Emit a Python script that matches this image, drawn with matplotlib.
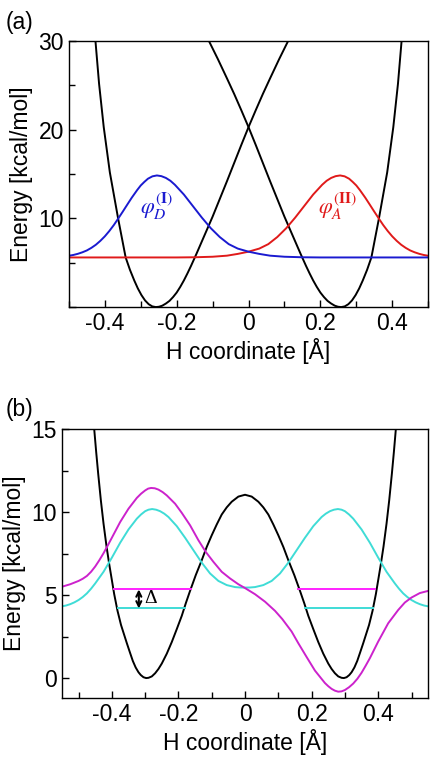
import matplotlib
matplotlib.use("Agg")
import matplotlib.pyplot as plt
from matplotlib.ticker import MultipleLocator, FuncFormatter

plt.rcParams["font.family"] = ["Liberation Sans", "DejaVu Sans"]
plt.rcParams["mathtext.fontset"] = "stix"
plt.rcParams["axes.unicode_minus"] = False

# ---------------- panel (a) data ----------------
# donor diabatic potential (black, left well)
va_left_x = [-0.433, -0.426, -0.416, -0.403, -0.386, -0.363, -0.352, -0.342, -0.33, -0.318,
             -0.308, -0.298, -0.288, -0.278, -0.268, -0.258, -0.249, -0.24, -0.23, -0.22,
             -0.21, -0.20, -0.19, -0.18, -0.17, -0.16, -0.145, -0.13, -0.115, -0.10,
             -0.08, -0.06, -0.04, -0.02, 0.0, 0.02, 0.04, 0.06, 0.085, 0.11, 0.125]
va_left_y = [33.5, 30.0, 25.2, 20.3, 15.2, 10.0, 7.7, 5.6, 4.2, 3.0,
             2.1, 1.35, 0.75, 0.33, 0.08, 0.0, 0.04, 0.16, 0.4, 0.7,
             1.13, 1.64, 2.28, 3.0, 3.8, 4.65, 6.0, 7.4, 8.8, 10.2,
             12.2, 14.2, 16.25, 18.3, 20.3, 22.2, 24.05, 25.8, 27.95, 30.0, 31.2]

# acceptor diabatic potential (black, right well)
va_right_x = [-0.125, -0.11, -0.085, -0.06, -0.04, -0.02, 0.0, 0.02, 0.04, 0.06,
              0.08, 0.10, 0.115, 0.13, 0.145, 0.16, 0.17, 0.18, 0.19, 0.20,
              0.21, 0.22, 0.23, 0.24, 0.249, 0.258, 0.268, 0.278, 0.288, 0.298,
              0.308, 0.318, 0.33, 0.342, 0.352, 0.363, 0.386, 0.403, 0.416, 0.426, 0.433]
va_right_y = [31.2, 30.0, 27.95, 25.8, 24.05, 22.2, 20.3, 18.3, 16.25, 14.2,
              12.2, 10.2, 8.8, 7.4, 6.0, 4.65, 3.8, 3.0, 2.28, 1.64,
              1.13, 0.7, 0.4, 0.16, 0.04, 0.0, 0.08, 0.33, 0.75, 1.35,
              2.1, 3.0, 4.2, 5.6, 7.7, 10.0, 15.2, 20.3, 25.2, 30.0, 33.5]

# phi_D^(I) (blue)
phi_d_x = [-0.5, -0.4875, -0.475, -0.4625, -0.45, -0.4375, -0.425, -0.4125, -0.40, -0.3875,
           -0.375, -0.3625, -0.35, -0.3375, -0.325, -0.31, -0.30, -0.29, -0.28, -0.2675,
           -0.255, -0.2425, -0.23, -0.2175, -0.205, -0.18, -0.155, -0.13, -0.105, -0.08,
           -0.055, -0.03, 0.0, 0.03, 0.06, 0.10, 0.15, 0.20, 0.5]
phi_d_y = [5.79, 5.88, 6.01, 6.18, 6.39, 6.68, 7.03, 7.47, 7.98, 8.58,
           9.25, 10.0, 10.77, 11.56, 12.34, 13.2, 13.72, 14.12, 14.48, 14.75,
           14.85, 14.77, 14.57, 14.25, 13.8, 12.7, 11.4, 10.1, 8.9, 7.9,
           7.1, 6.6, 6.25, 6.0, 5.8, 5.68, 5.62, 5.6, 5.6]

# phi_A^(II) (red)
phi_a_x = [-0.5, -0.2, -0.15, -0.10, -0.06, -0.03, 0.0, 0.03, 0.055, 0.08,
           0.105, 0.13, 0.155, 0.18, 0.205, 0.2175, 0.23, 0.2425, 0.255, 0.2675,
           0.28, 0.29, 0.30, 0.31, 0.325, 0.3375, 0.35, 0.3625, 0.375, 0.3875,
           0.40, 0.4125, 0.425, 0.4375, 0.45, 0.4625, 0.475, 0.4875, 0.5]
phi_a_y = [5.6, 5.6, 5.62, 5.68, 5.8, 6.0, 6.25, 6.6, 7.1, 7.9,
           8.9, 10.1, 11.4, 12.7, 13.8, 14.25, 14.57, 14.77, 14.85, 14.75,
           14.48, 14.12, 13.72, 13.2, 12.34, 11.56, 10.77, 10.0, 9.25, 8.58,
           7.98, 7.47, 7.03, 6.68, 6.39, 6.18, 6.01, 5.88, 5.79]

# ---------------- panel (b) data ----------------
# adiabatic double well (black)
vb_x = [-0.462, -0.453, -0.447, -0.441, -0.433, -0.425, -0.416, -0.408, -0.393, -0.383,
        -0.3725, -0.355, -0.346, -0.337, -0.3285, -0.32, -0.313, -0.305, -0.297, -0.29,
        -0.28, -0.27, -0.26, -0.25, -0.235, -0.22, -0.205, -0.19, -0.178, -0.166,
        -0.148, -0.13, -0.115, -0.10, -0.085, -0.07, -0.055, -0.04, -0.02, 0.0,
        0.02, 0.04, 0.055, 0.07, 0.085, 0.10, 0.115, 0.13, 0.148, 0.166,
        0.178, 0.19, 0.205, 0.22, 0.235, 0.25, 0.26, 0.27, 0.28, 0.29,
        0.297, 0.305, 0.313, 0.32, 0.3285, 0.337, 0.346, 0.355, 0.3725, 0.383,
        0.393, 0.408, 0.416, 0.425, 0.433, 0.441, 0.447, 0.453, 0.462]
vb_y = [17.2, 15.0, 13.6, 12.3, 10.7, 9.3, 7.93, 6.87, 5.06, 4.05,
        3.2, 2.1, 1.56, 1.03, 0.64, 0.35, 0.18, 0.05, 0.0, 0.015,
        0.1, 0.29, 0.55, 0.875, 1.47, 2.17, 2.95, 3.75, 4.5, 5.2,
        6.2, 7.1, 7.9, 8.6, 9.25, 9.85, 10.28, 10.62, 10.93, 11.04,
        10.93, 10.62, 10.28, 9.85, 9.25, 8.6, 7.9, 7.1, 6.2, 5.2,
        4.5, 3.75, 2.95, 2.17, 1.47, 0.875, 0.55, 0.29, 0.1, 0.015,
        0.0, 0.05, 0.18, 0.35, 0.64, 1.03, 1.56, 2.1, 3.2, 4.05,
        5.06, 6.87, 7.93, 9.3, 10.7, 12.3, 13.6, 15.0, 17.2]

# ground state (cyan)
psi0_x = [-0.55, -0.5375, -0.525, -0.5125, -0.50, -0.4875, -0.475, -0.4625, -0.45, -0.425,
          -0.40, -0.375, -0.35, -0.325, -0.3125, -0.30, -0.29, -0.279, -0.267, -0.255,
          -0.2425, -0.23, -0.205, -0.18, -0.155, -0.13, -0.105, -0.08, -0.055, -0.03,
          -0.015, 0.0, 0.015, 0.03, 0.055, 0.08, 0.105, 0.13, 0.155, 0.18,
          0.205, 0.23, 0.2425, 0.255, 0.267, 0.279, 0.29, 0.30, 0.3125, 0.325,
          0.35, 0.375, 0.40, 0.425, 0.45, 0.4625, 0.475, 0.4875, 0.50, 0.5125,
          0.525, 0.5375, 0.55]
psi0_y = [4.32, 4.37, 4.45, 4.56, 4.7, 4.88, 5.1, 5.38, 5.7, 6.4,
          7.25, 8.15, 8.95, 9.6, 9.85, 10.05, 10.14, 10.18, 10.14, 10.05,
          9.9, 9.7, 9.15, 8.45, 7.7, 6.95, 6.3, 5.85, 5.6, 5.48,
          5.455, 5.45, 5.455, 5.48, 5.6, 5.85, 6.3, 6.95, 7.7, 8.45,
          9.15, 9.7, 9.9, 10.05, 10.14, 10.18, 10.14, 10.05, 9.85, 9.6,
          8.95, 8.15, 7.25, 6.4, 5.7, 5.38, 5.1, 4.88, 4.7, 4.56,
          4.45, 4.37, 4.32]

# first excited state (magenta)
psi1_x = [-0.55, -0.525, -0.50, -0.4875, -0.475, -0.4625, -0.45, -0.4375, -0.425, -0.4125,
          -0.40, -0.375, -0.35, -0.325, -0.3125, -0.30, -0.291, -0.282, -0.271, -0.26,
          -0.2475, -0.235, -0.21, -0.19, -0.165, -0.14, -0.118, -0.095, -0.07, -0.045,
          -0.02, 0.0, 0.03, 0.06, 0.09, 0.112, 0.14, 0.16, 0.184, 0.21,
          0.24, 0.25, 0.26, 0.27, 0.28, 0.29, 0.30, 0.3125, 0.325, 0.3375,
          0.35, 0.3625, 0.375, 0.3875, 0.40, 0.43, 0.46, 0.48, 0.50, 0.525, 0.55]
psi1_y = [5.5, 5.65, 5.85, 5.98, 6.15, 6.4, 6.72, 7.1, 7.52, 7.98,
          8.45, 9.4, 10.2, 10.85, 11.1, 11.3, 11.41, 11.45, 11.43, 11.35,
          11.2, 11.0, 10.5, 9.95, 9.2, 8.3, 7.6, 7.0, 6.4, 6.0,
          5.65, 5.42, 5.05, 4.6, 4.05, 3.55, 2.8, 2.1, 1.3, 0.45,
          -0.3, -0.49, -0.65, -0.76, -0.82, -0.8, -0.72, -0.55, -0.33, -0.04,
          0.32, 0.75, 1.2, 1.7, 2.2, 3.3, 4.1, 4.55, 4.85, 5.12, 5.25]

# energy levels
e1_level = 5.34
e1_segments = [(-0.395, -0.161), (0.159, 0.391)]
e0_level = 4.19
e0_segments = [(-0.383, -0.181), (0.181, 0.383)]
delta_x = -0.319

# colours
BLUE = "#1a1ad0"
RED = "#e01a1a"
MAGENTA = "#cc22cc"
MAGENTA_LEVEL = "#ff22ff"
CYAN = "#3fdcd6"

FS = 16.5
LW = 1.4


def fmt_tick(v, pos):
    if abs(v) < 1e-9:
        return "0"
    return f"{v:.1f}"


def style_axes(ax):
    ax.tick_params(direction="in", which="both", labelsize=FS, width=1.0)
    ax.tick_params(which="major", length=5)
    ax.tick_params(which="minor", length=4)
    ax.tick_params(top=False, right=False)
    for s in ax.spines.values():
        s.set_linewidth(1.0)
    ax.xaxis.set_major_locator(MultipleLocator(0.2))
    ax.xaxis.set_minor_locator(MultipleLocator(0.1))
    ax.xaxis.set_major_formatter(FuncFormatter(fmt_tick))
    ax.set_xlabel("H coordinate [Å]", fontsize=FS, labelpad=2)
    ax.set_ylabel("Energy [kcal/mol]", fontsize=FS, labelpad=4)


fig = plt.figure(figsize=(4.36, 7.62), dpi=100)

# (a) diabatic picture
ax1 = fig.add_axes([0.158, 0.597, 0.824, 0.349])
ax1.plot(va_left_x, va_left_y, color="k", lw=LW)
ax1.plot(va_right_x, va_right_y, color="k", lw=LW)
ax1.plot(phi_a_x, phi_a_y, color=RED, lw=LW)
ax1.plot(phi_d_x, phi_d_y, color=BLUE, lw=LW)
ax1.text(-0.255, 11.4, r"$\varphi^{(\mathbf{I})}_{D}$", color=BLUE, fontsize=16,
         ha="center", va="center")
ax1.text(0.247, 11.4, r"$\varphi^{(\mathbf{II})}_{A}$", color=RED, fontsize=16,
         ha="center", va="center")
ax1.set_xlim(-0.5, 0.5)
ax1.set_ylim(0, 30)
ax1.yaxis.set_major_locator(MultipleLocator(10))
ax1.yaxis.set_minor_locator(MultipleLocator(5))
ax1.yaxis.set_major_formatter(FuncFormatter(lambda v, p: "" if v == 0 else f"{v:.0f}"))
style_axes(ax1)
fig.text(0.012, 0.985, "(a)", fontsize=FS, ha="left", va="top")

# (b) adiabatic picture
ax2 = fig.add_axes([0.142, 0.084, 0.840, 0.353])
ax2.plot(vb_x, vb_y, color="k", lw=LW)
ax2.plot(psi0_x, psi0_y, color=CYAN, lw=LW)
ax2.plot(psi1_x, psi1_y, color=MAGENTA, lw=LW)
for x0, x1 in e1_segments:
    ax2.plot([x0, x1], [e1_level, e1_level], color=MAGENTA_LEVEL, lw=LW)
for x0, x1 in e0_segments:
    ax2.plot([x0, x1], [e0_level, e0_level], color=CYAN, lw=LW)
ax2.annotate("", xy=(delta_x, e1_level), xytext=(delta_x, e0_level),
             arrowprops=dict(arrowstyle="<->", color="k", lw=1.5,
                             shrinkA=0, shrinkB=0, mutation_scale=9))
ax2.text(delta_x + 0.017, (e0_level + e1_level) / 2, "Δ", fontsize=14,
         family=["Liberation Serif", "DejaVu Serif"], ha="left", va="center")
ax2.set_xlim(-0.55, 0.55)
ax2.set_ylim(-1.2, 15)
ax2.yaxis.set_major_locator(MultipleLocator(5))
ax2.yaxis.set_minor_locator(MultipleLocator(2.5))
ax2.yaxis.set_major_formatter(FuncFormatter(lambda v, p: f"{v:.0f}"))
style_axes(ax2)
fig.text(0.012, 0.478, "(b)", fontsize=FS, ha="left", va="top")

fig.savefig("out.png", dpi=100)
